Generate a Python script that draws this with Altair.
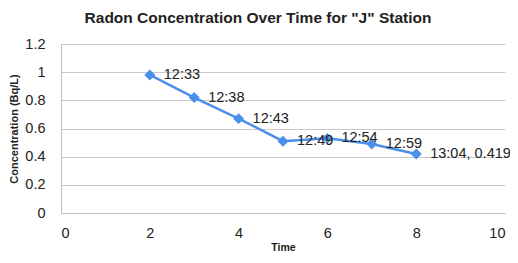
import altair as alt
import pandas as pd

xs = [2, 3, 4, 5, 6, 7, 8]
conc = [0.98, 0.82, 0.67, 0.51, 0.53, 0.49, 0.419]
labels = ["12:33", "12:38", "12:43", "12:49", "12:54", "12:59", "13:04, 0.419"]

df = pd.DataFrame({"x": xs, "y": conc, "label": labels})

FONT = "Liberation Sans"
BLUE = "#4A8FEA"

base = alt.Chart(df).encode(
    x=alt.X("x:Q", scale=alt.Scale(domain=[0, 10], nice=False),
            axis=alt.Axis(title="Time", values=[0, 2, 4, 6, 8, 10], grid=False,
                          ticks=False, domainColor="#BFBFBF", labelFontSize=14.5,
                          labelColor="#222", titleFontSize=10.5, titleFontWeight="bold",
                          titleColor="#222", labelPadding=13, titlePadding=3,
                          labelFont=FONT, titleFont=FONT)),
    y=alt.Y("y:Q", scale=alt.Scale(domain=[0, 1.2], nice=False),
            axis=alt.Axis(title="Concentration (Bq/L)", values=[0, 0.2, 0.4, 0.6, 0.8, 1, 1.2],
                          format="~g",
                          grid=True, gridColor="#C8C8C8", gridWidth=1.2, ticks=False,
                          domainColor="#BFBFBF", labelFontSize=14.5, labelColor="#222",
                          titleFontSize=11, titleFontWeight="bold", titleColor="#222",
                          labelPadding=16, titlePadding=5, labelFont=FONT, titleFont=FONT)),
)

line = base.mark_line(color=BLUE, strokeWidth=2.5)
pts = base.mark_point(shape="diamond", filled=True, color=BLUE, size=120, opacity=1)
txt = base.mark_text(align="left", baseline="middle", dx=14, fontSize=14.5,
                     font=FONT, color="#222").encode(text="label:N")

chart = (line + pts + txt).properties(
    width=444, height=169,
    title=alt.TitleParams("Radon Concentration Over Time for \"J\" Station",
                          fontSize=15.5, font=FONT, fontWeight="bold", color="#222",
                          anchor="middle", offset=10, dx=-25),
    autosize=alt.AutoSizeParams(type="none"),
    padding={"left": 53, "top": 36, "right": 5, "bottom": 42},
).configure_view(stroke=None)

chart.save("out.html", embed_options={"renderer": "svg", "actions": False})
